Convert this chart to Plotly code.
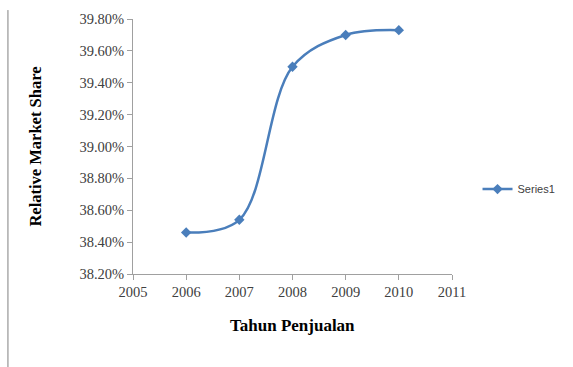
import plotly.graph_objects as go

years = [2006, 2007, 2008, 2009, 2010]
share = [38.46, 38.54, 39.50, 39.70, 39.73]
series_name = "Series1"
x_ticks = [2005, 2006, 2007, 2008, 2009, 2010, 2011]
y_ticks = [38.20, 38.40, 38.60, 38.80, 39.00, 39.20, 39.40, 39.60, 39.80]
y_tick_text = [f"{v:.2f}%" for v in y_ticks]

blue = "#4A7EBB"
axis_col = "#A0A0A0"
serif = "Liberation Serif, Times New Roman, serif"

fig = go.Figure()
fig.add_trace(go.Scatter(
    x=years, y=share, name=series_name, mode="lines+markers",
    line=dict(color=blue, width=2.5, shape="spline", smoothing=1.0),
    marker=dict(symbol="diamond", size=8, color=blue),
))

fig.update_layout(
    width=573, height=367,
    margin=dict(l=133, r=121, t=19, b=93),
    paper_bgcolor="white", plot_bgcolor="white",
    showlegend=True,
    legend=dict(x=1.08, y=0.333, xanchor="left", yanchor="middle",
                font=dict(family="Liberation Sans, Arial, sans-serif", size=11, color="#404040"),
                bgcolor="rgba(0,0,0,0)"),
    xaxis=dict(range=[2005, 2011], tickvals=x_ticks, showgrid=False,
               showline=True, linecolor=axis_col, linewidth=1,
               ticks="outside", ticklen=5, tickcolor=axis_col,
               tickfont=dict(family=serif, size=14.5, color="#404040"), zeroline=False),
    yaxis=dict(range=[38.2, 39.8], tickvals=y_ticks, ticktext=y_tick_text,
               showgrid=False, showline=True, linecolor=axis_col, linewidth=1,
               ticks="outside", ticklen=5, tickcolor=axis_col,
               tickfont=dict(family=serif, size=14.5, color="#404040"), zeroline=False),
    annotations=[
        dict(text="<b>Relative Market Share</b>", x=-0.307, y=0.5, xref="paper", yref="paper",
             textangle=-90, showarrow=False, xanchor="center", yanchor="middle",
             font=dict(family=serif, size=16.5, color="black")),
        dict(text="<b>Tahun Penjualan</b>", x=0.5, y=-0.2, xref="paper", yref="paper",
             showarrow=False, xanchor="center", yanchor="middle",
             font=dict(family=serif, size=17, color="black")),
    ],
    shapes=[dict(type="line", xref="paper", yref="paper", x0=-0.392, x1=-0.392,
                 y0=1.035, y1=-0.37, line=dict(color="#808080", width=1))],
)

fig.write_html("out.html")
